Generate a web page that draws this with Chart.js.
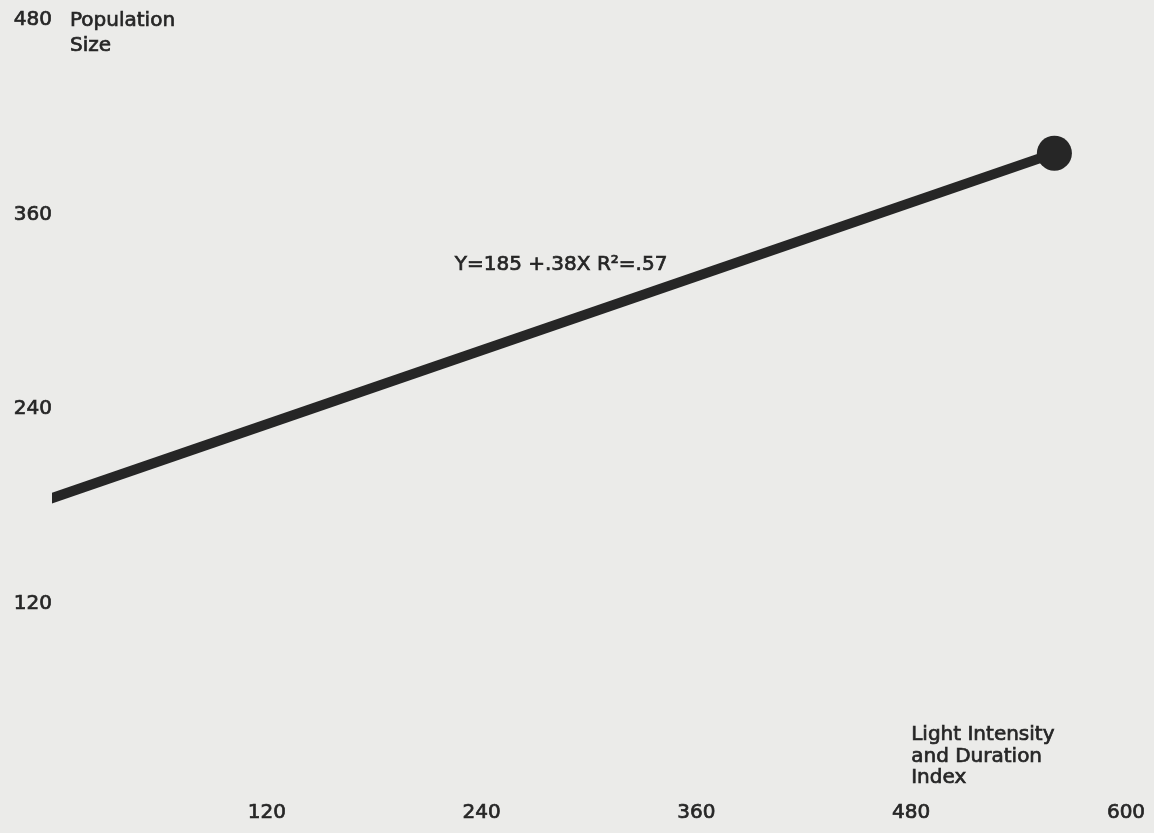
<!DOCTYPE html>
<html>
<head>
<meta charset="utf-8">
<script src="https://cdn.jsdelivr.net/npm/chart.js@4.4.1/dist/chart.umd.min.js"></script>
<style>
  html, body { margin: 0; padding: 0; background: #ebebe9; }
  #regChart { display: block; }
</style>
</head>
<body>
<canvas id="regChart" width="1154" height="833"></canvas>
<script>
// fitted line Y = 185 + .38X, from X = 0 to the last observed index
var lightIndex = [0, 560];
var populationSize = [185, 397.8];
var xTickValues = [120, 240, 360, 480, 600];
var yTickValues = [120, 240, 360, 480];
var yTitleLines = ['Population', 'Size'];
var xTitleLines = ['Light Intensity', 'and Duration', 'Index'];
var fitLabel = 'Y=185 +.38X R\u00B2=.57';

var ink = '#262626';
var fontFamily = '"DejaVu Sans", sans-serif';
var textWeight = 0.7;

// axis titles and the fit equation are plain text on the plot
var textLabels = {
  id: 'textLabels',
  afterDraw: function(chart) {
    var ctx = chart.ctx;
    var xs = chart.scales.x;
    var ys = chart.scales.y;
    ctx.save();
    ctx.fillStyle = ink;
    ctx.strokeStyle = ink;
    ctx.lineWidth = textWeight;
    ctx.font = '20px ' + fontFamily;
    ctx.textAlign = 'left';
    ctx.textBaseline = 'middle';

    function put(t, x, y) {
      ctx.fillText(t, x, y);
      ctx.strokeText(t, x, y);
    }

    var top = ys.getPixelForValue(480);
    yTitleLines.forEach(function(t, i) {
      put(t, chart.chartArea.left + 18, top + 1 + i * 25);
    });

    var bottom = chart.chartArea.bottom;
    xTitleLines.forEach(function(t, i) {
      put(t, xs.getPixelForValue(480), bottom - 63 + i * 21.5);
    });

    put(fitLabel, xs.getPixelForValue(225), ys.getPixelForValue(329));
    ctx.restore();
  }
};

function initChart()
{
  var points = lightIndex.map(function(x, i) {
    return { x: x, y: populationSize[i] };
  });

  var tickFont = { family: fontFamily, size: 20 };

  var options = {
    type: 'scatter',
    data: {
      datasets: [
        {
          data: points,
          showLine: true,
          borderColor: ink,
          borderWidth: 10,
          borderCapStyle: 'square',
          backgroundColor: ink,
          pointBackgroundColor: ink,
          pointBorderWidth: 0,
          pointRadius: [0, 17.5],
          clip: 0
        }
      ]
    },
    options: {
      responsive: false,
      animation: false,
      devicePixelRatio: 1,
      events: [],
      layout: {
        padding: { top: 20, right: 28, bottom: 0, left: 0 }
      },
      plugins: {
        legend: { display: false },
        tooltip: { enabled: false }
      },
      scales: {
        x: {
          type: 'linear',
          min: 0,
          max: 600,
          grid: { display: false, drawTicks: false },
          border: { display: false },
          afterBuildTicks: function(scale) {
            scale.ticks = xTickValues.map(function(v) { return { value: v }; });
          },
          afterFit: function(scale) { scale.height = 35; },
          ticks: {
            color: ink,
            padding: 3,
            maxRotation: 0,
            textStrokeColor: ink,
            textStrokeWidth: textWeight,
            font: tickFont
          }
        },
        y: {
          type: 'linear',
          min: 0,
          max: 480,
          grid: { display: false, drawTicks: false },
          border: { display: false },
          afterBuildTicks: function(scale) {
            scale.ticks = yTickValues.map(function(v) { return { value: v }; });
          },
          afterFit: function(scale) { scale.width = 52; },
          ticks: {
            color: ink,
            padding: 0,
            textStrokeColor: ink,
            textStrokeWidth: textWeight,
            font: tickFont
          }
        }
      }
    },
    plugins: [textLabels]
  };

  var ctx = document.getElementById('regChart').getContext('2d');
  return new Chart(ctx, options);
}
initChart();
</script>
</body>
</html>
